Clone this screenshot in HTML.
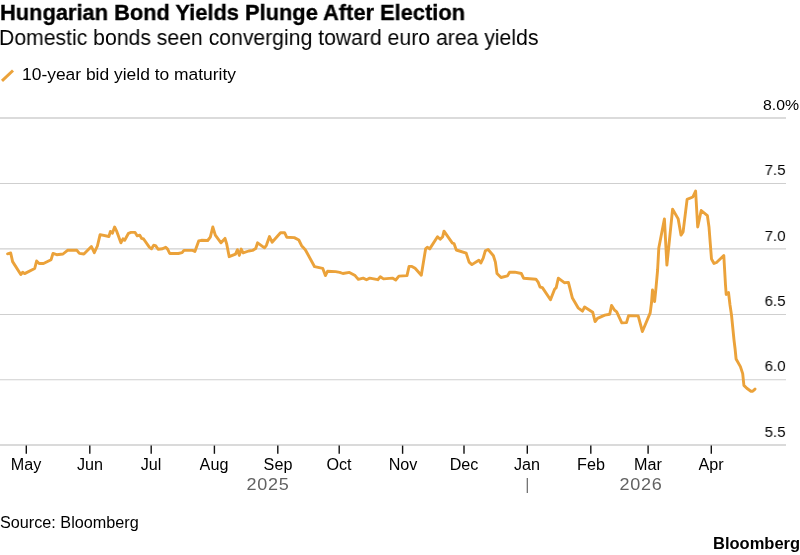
<!DOCTYPE html>
<html><head><meta charset="utf-8"><title>Hungarian Bond Yields Plunge After Election</title>
<style>
html,body{margin:0;padding:0;background:#fff;}
body{width:800px;height:555px;position:relative;overflow:hidden;font-family:"Liberation Sans",sans-serif;color:#000;}
.t{position:absolute;white-space:nowrap;line-height:1;will-change:transform;}
#title{left:0.2px;top:2px;font-size:22.2px;font-weight:bold;-webkit-text-stroke:0.35px #000;transform-origin:0 0;transform:scaleX(0.984);}
#sub{left:-0.6px;top:28px;font-size:21.4px;transform-origin:0 0;transform:scaleX(0.9905);}
#leg{left:22.3px;top:66.1px;font-size:16.3px;transform-origin:0 0;transform:scaleX(1.07);}
.m{font-size:16px;top:457px;transform:translateX(-50%) scaleX(1.01);}
.y{font-size:15.5px;}
.yl{left:763.4px;transform-origin:0 0;transform:scaleX(1.02);}
.yr2{right:14px;transform-origin:100% 0;transform:scaleX(0.97);}
.yr{font-size:16.4px;color:#626262;letter-spacing:0.65px;top:476px;margin-left:0.6px;transform:translateX(-50%) scaleX(1.1);}
#src{left:0px;top:515px;font-size:16px;transform-origin:0 0;transform:scaleX(1.013);}
#bb{right:0px;top:534.5px;font-size:16.5px;font-weight:bold;}
svg{position:absolute;left:0;top:0;}
</style></head><body>
<svg width="800" height="555" viewBox="0 0 800 555">

<line x1="0" x2="786" y1="118" y2="118" stroke="#cfcfcf" stroke-width="1.3"/>
<line x1="0" x2="786" y1="183.5" y2="183.5" stroke="#cfcfcf" stroke-width="1.0"/>
<line x1="0" x2="786" y1="248.95" y2="248.95" stroke="#cfcfcf" stroke-width="1.3"/>
<line x1="0" x2="786" y1="314.5" y2="314.5" stroke="#cfcfcf" stroke-width="1.0"/>
<line x1="0" x2="786" y1="379.7" y2="379.7" stroke="#cfcfcf" stroke-width="1.1"/>
<line x1="0" x2="786" y1="445" y2="445" stroke="#cecece" stroke-width="1.3"/>
<line x1="26.3" x2="26.3" y1="445.6" y2="453.8" stroke="#111" stroke-width="1.4"/>
<line x1="89.8" x2="89.8" y1="445.6" y2="453.8" stroke="#111" stroke-width="1.4"/>
<line x1="151.2" x2="151.2" y1="445.6" y2="453.8" stroke="#111" stroke-width="1.4"/>
<line x1="214.4" x2="214.4" y1="445.6" y2="453.8" stroke="#111" stroke-width="1.4"/>
<line x1="277.8" x2="277.8" y1="445.6" y2="453.8" stroke="#111" stroke-width="1.4"/>
<line x1="339.2" x2="339.2" y1="445.6" y2="453.8" stroke="#111" stroke-width="1.4"/>
<line x1="402.6" x2="402.6" y1="445.6" y2="453.8" stroke="#111" stroke-width="1.4"/>
<line x1="464" x2="464" y1="445.6" y2="453.8" stroke="#111" stroke-width="1.4"/>
<line x1="527.3" x2="527.3" y1="445.6" y2="453.8" stroke="#111" stroke-width="1.4"/>
<line x1="590.8" x2="590.8" y1="445.6" y2="453.8" stroke="#111" stroke-width="1.4"/>
<line x1="648.1" x2="648.1" y1="445.6" y2="453.8" stroke="#111" stroke-width="1.4"/>
<line x1="711.3" x2="711.3" y1="445.6" y2="453.8" stroke="#111" stroke-width="1.4"/>
<line x1="527.3" x2="527.3" y1="478" y2="493" stroke="#666" stroke-width="1.2"/>
<path d="M7.6,253.8 L10.7,253.0 L12.6,261.6 L20.8,274.5 L22.7,272.3 L24.6,273.6 L34.7,268.5 L36.6,261 L39.1,263.5 L43.5,263.5 L51.1,259.7 L53,253.4 L56.7,254.7 L63,254 L67.5,250.3 L76.9,250.3 L79.4,253.4 L83.9,254 L91.4,246.5 L94.3,252.7 L97.4,246 L100.1,234.6 L108.9,236.5 L110.4,231.4 L112.4,233.3 L114.6,227 L116.5,230.8 L120.9,242.8 L123,238.8 L124.7,240.3 L128.5,233.3 L131,232.4 L135.1,232.4 L137.3,235.9 L139.8,235.2 L141.7,238.4 L143.6,239 L149.3,247.2 L151.5,248.8 L153.7,245.3 L155.6,245.6 L158.1,249.3 L162.5,248.8 L165.7,247.2 L167.6,249.1 L169.7,253.5 L178.3,253.5 L182.1,252.6 L183.9,250.4 L192.6,250.4 L194.9,251.4 L198.7,240.9 L201.4,240.3 L207.7,240.5 L210.3,237.1 L212.8,227 L215.3,235.2 L221,242.8 L225,238.4 L226.7,244 L229.2,256.7 L235.5,254.1 L237.4,249.7 L239.3,255.4 L241.2,249.1 L243.1,252.9 L248.7,251 L252.5,250.4 L255.7,248.5 L257.6,242.8 L264.5,247.8 L266.4,245.3 L269.5,236.5 L272.1,242.2 L280.5,232.7 L284.6,232.7 L286.7,237.2 L294.3,237.6 L298.8,240 L301.6,245.7 L305.3,249.7 L314.6,266.7 L322.7,268.3 L325.4,275.6 L327.5,271.3 L335.6,271.6 L339.7,272.4 L342.9,273.5 L349.4,272.4 L355.1,275.6 L358.3,279.4 L363.2,278.1 L366.5,279.7 L369.7,278.1 L377.8,279.7 L380.3,276.8 L383.5,278.9 L392.4,278.1 L395.7,280 L398.9,276.1 L407,275.6 L409.1,266.4 L411.9,266.4 L415.1,268.3 L421.3,275.2 L425.6,248.9 L427.3,247.3 L429.7,248.9 L437.5,236.7 L440.2,239.2 L442.7,236.7 L444,231.1 L452.4,243.2 L454,243.6 L456.3,250 L466.2,253.2 L469.1,262.1 L471.9,264.6 L478.8,260.2 L480.8,263 L483.2,258.1 L485.3,250.8 L488.1,249.5 L493.4,255.7 L495.4,262.1 L497,273.5 L501,277.5 L507.5,275.9 L509.6,272.2 L514.8,272.2 L521.3,273.5 L523.7,278.3 L535.9,279.2 L538.3,282.4 L540,287 L542.4,287.6 L550.5,299.7 L554.6,289.2 L556.2,287.6 L558.3,278.2 L564.3,282.7 L568.4,282.4 L572.4,298.1 L578.1,307.8 L582.5,311.1 L584.6,307 L592.7,312.2 L595.1,321.6 L597.5,318.3 L604.8,315.1 L609.7,314.3 L611.6,305.4 L614.6,310.2 L616.7,311.9 L621.8,322.9 L626.5,322.6 L628.5,315.8 L638.2,315.9 L642.4,331.5 L650.2,312.9 L651.5,302.8 L652.5,289.9 L654.6,301.5 L655.9,288.9 L657.6,270 L658.8,248.1 L664.4,218.9 L666.9,265.1 L672.6,209.2 L678.2,218.9 L681,235.1 L683.1,231.9 L687.1,199.4 L692.8,197 L695.6,191 L697.7,227 L701.2,210.5 L707.4,215.7 L709,227 L710,240 L711.5,259 L714,263.5 L716.5,262.5 L723.8,255.5 L725.5,285 L726.2,294.5 L728.5,292.5 L730,305 L731.5,315 L734,340 L735.1,349 L736.1,359 L740.4,366.6 L742.7,373.6 L743.9,385.4 L746.8,388.3 L750.9,391.2 L752.7,391.2 L755,389.1" fill="none" stroke="#eba23a" stroke-width="2.9" stroke-linejoin="round" stroke-linecap="round"/>
<line x1="2.0" y1="80.8" x2="13" y2="70.5" stroke="#eba23a" stroke-width="3" stroke-linecap="butt"/>
</svg>
<div class="t" id="title">Hungarian Bond Yields Plunge After Election</div>
<div class="t" id="sub">Domestic bonds seen converging toward euro area yields</div>
<div class="t" id="leg">10-year bid yield to maturity</div>
<div class="t m" style="left:26.3px">May</div>
<div class="t m" style="left:89.8px">Jun</div>
<div class="t m" style="left:151.2px">Jul</div>
<div class="t m" style="left:214.4px">Aug</div>
<div class="t m" style="left:277.8px">Sep</div>
<div class="t m" style="left:339.2px">Oct</div>
<div class="t m" style="left:402.6px">Nov</div>
<div class="t m" style="left:464px">Dec</div>
<div class="t m" style="left:527.3px">Jan</div>
<div class="t m" style="left:590.8px">Feb</div>
<div class="t m" style="left:648.1px">Mar</div>
<div class="t m" style="left:711.3px">Apr</div>
<div class="t y yl" style="top:97.0px">8.0%</div>
<div class="t y yr2" style="top:162.0px">7.5</div>
<div class="t y yr2" style="top:228.0px">7.0</div>
<div class="t y yr2" style="top:293.0px">6.5</div>
<div class="t y yr2" style="top:358.0px">6.0</div>
<div class="t y yr2" style="top:424.0px">5.5</div>
<div class="t yr" style="left:267px">2025</div>
<div class="t yr" style="left:640px">2026</div>
<div class="t" id="src">Source: Bloomberg</div>
<div class="t" id="bb">Bloomberg</div>
</body></html>
